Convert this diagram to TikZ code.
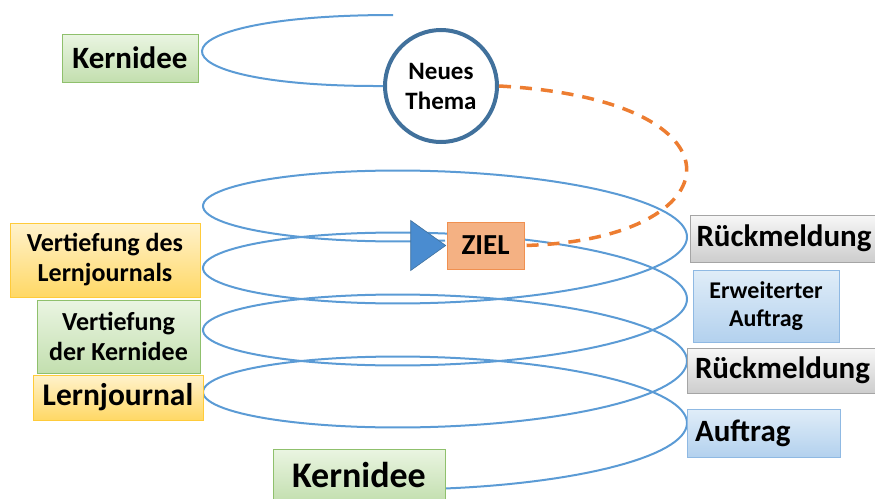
\documentclass[tikz,border=0pt]{standalone}
\usepackage{fontspec}
\setmainfont{Carlito}
\usetikzlibrary{shapes.geometric}
\definecolor{spiralblau}{HTML}{5B9BD5}
\definecolor{kreisblau}{HTML}{41719C}
\definecolor{pfeilblau}{HTML}{4A8CD0}
\definecolor{orange}{HTML}{ED7D31}
\definecolor{lachs}{HTML}{F4B183}
\definecolor{gruenOben}{HTML}{EAF5E2}
\definecolor{gruenUnten}{HTML}{C3DFAF}
\definecolor{gruenRand}{HTML}{8FC06C}
\definecolor{gelbOben}{HTML}{FFF2CC}
\definecolor{gelbUnten}{HTML}{FFD865}
\definecolor{gelbRand}{HTML}{FFCB3A}
\definecolor{grauOben}{HTML}{F7F7F7}
\definecolor{grauUnten}{HTML}{CDCDCD}
\definecolor{grauRand}{HTML}{A5A5A5}
\definecolor{blauOben}{HTML}{E0EDF8}
\definecolor{blauUnten}{HTML}{B3D1EE}
\definecolor{blauRand}{HTML}{8FB9E3}
\newcommand{\schrift}[2]{\fontsize{#1}{#2}\selectfont\bfseries}
\tikzset{
  kasten/.style={rectangle, draw, line width=1pt, inner sep=0pt, align=center},
  gruen/.style={kasten, draw=gruenRand, top color=gruenOben, bottom color=gruenUnten},
  gelb/.style={kasten, draw=gelbRand, top color=gelbOben, bottom color=gelbUnten},
  grau/.style={kasten, draw=grauRand, top color=grauOben, bottom color=grauUnten},
  blau/.style={kasten, draw=blauRand, top color=blauOben, bottom color=blauUnten},
  spirale/.style={draw=spiralblau, line width=2pt},
  strich/.style={draw=orange, line width=3.5pt, dash pattern=on 12pt off 9pt},
}
\begin{document}
\begin{tikzpicture}[x=1pt, y=-1pt]
\useasboundingbox (0,0) rectangle (875,498);

\draw[spirale] plot[domain=-270:1170, samples=481, variable=\t]
  ({445-242*cos(\t)}, {392-0.172222*\t+50*sin(\t)});

\node[draw=kreisblau, line width=4pt, fill=white, circle, minimum size=112, inner sep=0pt, align=center, font=\schrift{25}{30}] (thema) at (441,86) {Neues\\Thema};
\coordinate (anfang) at (393,15);
\draw[spirale] (anfang) .. controls (140,15) and (140,87) .. (thema.west);

\node[gruen, minimum width=136, minimum height=48, font=\schrift{31}{35}] (kernOben) at (130,58) {Kernidee};
\node[gelb, minimum width=190, minimum height=74, font=\schrift{26}{30}] (vertLj) at (105,260) {Vertiefung des\\Lernjournals};
\node[gruen, minimum width=163, minimum height=73, font=\schrift{26}{30}] (vertKern) at (118.5,336.5) {Vertiefung\\der Kernidee};
\node[gelb, minimum width=170, minimum height=45, font=\schrift{31.5}{35}] (lj) at (118,397.5) {Lernjournal};
\node[gruen, minimum width=172, minimum height=52, font=\schrift{36}{40}] (kernUnten) at (359,475) {Kernidee};

\node[grau, minimum width=188, minimum height=47, font=\schrift{31}{35}] (rueckOben) at (784,238.5) {Rückmeldung};
\node[blau, minimum width=146, minimum height=72, font=\schrift{24}{28}] (erwAuftrag) at (766,306) {Erweiterter\\Auftrag};
\node[grau, minimum width=191, minimum height=45, font=\schrift{31}{35}] (rueckUnten) at (782.5,370.5) {Rückmeldung};
\node[blau, text width=137pt, inner xsep=8pt, minimum height=48, align=left, font=\schrift{31}{35}] (auftrag) at (763.5,433) {Auftrag};

\node[rectangle, draw=orange!85!white, line width=1pt, fill=lachs, minimum width=77, minimum height=47, inner sep=0pt, font=\schrift{29}{33}] (ziel) at (485.5,245.5) {ZIEL};
\node[isosceles triangle, isosceles triangle stretches, shape border rotate=0, minimum width=50, minimum height=35, inner sep=0pt, fill=pfeilblau, draw=kreisblau, line width=0.6pt, anchor=apex] (pfeil) at (ziel.west) {};

\draw[strich] (thema.east) .. controls (755,100) and (735,240) .. (ziel.east);
\end{tikzpicture}
\end{document}
